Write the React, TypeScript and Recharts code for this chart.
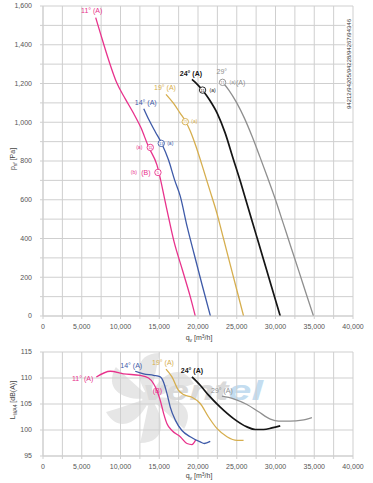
import React from 'react';
import {
  ComposedChart,
  Line,
  XAxis,
  YAxis,
  CartesianGrid,
  ReferenceDot,
} from 'recharts';

const FONT = '"Liberation Sans", Arial, sans-serif';

const FLOW_TICKS = [
  0, 2500, 5000, 7500, 10000, 12500, 15000, 17500, 20000, 22500, 25000,
  27500, 30000, 32500, 35000, 37500, 40000,
];
const PRESSURE_TICKS = [
  0, 100, 200, 300, 400, 500, 600, 700, 800, 900, 1000, 1100, 1200, 1300,
  1400, 1500, 1600,
];
const SOUND_TICKS = [95, 100, 105, 110, 115];

const BLADE_ANGLES = ['11°', '14°', '19°', '24°', '29°'];
const COLORS = ['#e8328c', '#3e5aa8', '#d6ae4e', '#151515', '#8f8f8f'];

// static pressure p_sf [Pa] over flow q_v [m3/h]
const Q_11 = [6800, 7400, 8400, 9500, 10600, 11700, 12600, 13600, 14700, 15900, 16900, 18000, 19000, 19650];
const P_11 = [1540, 1460, 1330, 1205, 1122, 1045, 975, 875, 780, 565, 385, 236, 100, 0];
const Q_14 = [13000, 13700, 14500, 15300, 16200, 17000, 17700, 18600, 19500, 20500, 21600];
const P_14 = [1070, 1010, 950, 892, 805, 700, 620, 461, 320, 165, 0];
const Q_19 = [15870, 16850, 17710, 18350, 19000, 19700, 20720, 21500, 22440, 23300, 24200, 25100, 25880];
const P_19 = [1144, 1097, 1046, 1008, 955, 880, 753, 652, 530, 398, 259, 120, 0];
const Q_24 = [19220, 20000, 20640, 21500, 22500, 23500, 24500, 25500, 26500, 27500, 28500, 29500, 30610];
const P_24 = [1221, 1192, 1163, 1115, 1045, 945, 817, 690, 555, 420, 285, 150, 0];
const Q_29 = [23200, 24000, 25000, 26000, 27000, 28000, 29000, 30000, 31000, 32000, 33000, 34000, 34900];
const P_29 = [1205, 1165, 1100, 1020, 925, 820, 712, 600, 478, 355, 233, 110, 0];

// sound power level L_WA4 [dB(A)] over flow q_v [m3/h]
const LQ_11 = [6880, 8680, 10400, 12550, 13620, 14270, 14700, 15130, 15560, 16000, 16640, 17710, 18580, 19220, 19700];
const L_11 = [110.2, 111.3, 110.8, 110.5, 110.0, 108.9, 107.6, 105.7, 103.2, 101.2, 99.9, 98.7, 97.4, 97.2, 98.1];
const LQ_14 = [11900, 12980, 14270, 15130, 15560, 16000, 16420, 17070, 17930, 19000, 20290, 20810, 21580];
const L_14 = [111.3, 110.8, 110.5, 110.2, 109.2, 107.0, 104.4, 101.9, 99.9, 98.7, 97.7, 97.4, 97.8];
const LQ_19 = [15870, 16640, 17490, 18140, 19220, 20290, 21360, 22440, 23740, 25030, 25880];
const L_19 = [111.7, 110.2, 107.6, 106.8, 106.3, 105.1, 102.5, 100.3, 98.7, 98.0, 98.0];
const LQ_24 = [19220, 20290, 21360, 22870, 24590, 26320, 27390, 28460, 29540, 30610];
const L_24 = [110.2, 108.6, 106.7, 104.4, 102.2, 100.6, 100.1, 100.1, 100.4, 100.8];
const LQ_29 = [23090, 24590, 26320, 27820, 29330, 30400, 31900, 33410, 34700];
const L_29 = [106.5, 106.0, 104.9, 103.5, 102.1, 101.7, 101.7, 101.9, 102.4];

// operating points marked on the pressure curves
const OP_Q = [13840, 14830, 15260, 18360, 20590, 23170];
const OP_P = [870, 741, 891, 1003, 1166, 1206];
const OP_SERIES = [0, 0, 1, 2, 3, 4];
const OP_NUM = ['11', '5', '13', '15', '11', '11'];

const zip = (q: number[], v: number[]) => q.map((x, i) => ({ q: x, v: v[i] }));

const PRESSURE_CURVES = [
  zip(Q_11, P_11),
  zip(Q_14, P_14),
  zip(Q_19, P_19),
  zip(Q_24, P_24),
  zip(Q_29, P_29),
];
const SOUND_CURVES = [
  zip(LQ_11, L_11),
  zip(LQ_14, L_14),
  zip(LQ_19, L_19),
  zip(LQ_24, L_24),
  zip(LQ_29, L_29),
];

// curve name placement relative to the first point of each curve
const TOP_LABEL = [
  { text: 'A', dx: -4, dy: -5, anchor: 'middle' },
  { text: 'A', dx: 2, dy: -4, anchor: 'middle' },
  { text: 'A', dx: -1, dy: -4, anchor: 'middle' },
  { text: 'A', dx: -1, dy: -3, anchor: 'middle', bold: true },
  { text: '', dx: -1, dy: -9, anchor: 'middle' },
];
const BOTTOM_LABEL = [
  { dx: -3, dy: 4, anchor: 'end' },
  { dx: -4, dy: -3.5, anchor: 'middle' },
  { dx: -3, dy: -4.5, anchor: 'middle' },
  { dx: 0, dy: -4, anchor: 'middle', bold: true },
  { dx: 0, dy: -3, anchor: 'middle' },
];

// small notes drawn beside each operating point
const OP_NOTES = [
  [{ t: '(a)', dx: -11, size: 5 }],
  [{ t: '(B)', dx: -12, size: 7 }, { t: '(b)', dx: -24, size: 5 }],
  [{ t: '(a)', dx: 9, size: 5 }],
  [{ t: '(a)', dx: 9, size: 5 }],
  [{ t: '(a)', dx: 10, size: 5 }],
  [{ t: '(a)', dx: 10, size: 5 }, { t: '(A)', dx: 18, size: 7 }],
];

const GRID = '#cfcfcf';
const tick = { fill: '#555', fontSize: 7, fontFamily: FONT };
const fmtFlow = (v: number) => (v % 5000 === 0 ? v.toLocaleString('en-US') : '');
const fmtPressure = (v: number) => (v % 200 === 0 ? v.toLocaleString('en-US') : '');

const curveText = (
  txt: string,
  color: string,
  cfg: { dx: number; dy: number; anchor: string; bold?: boolean }
) => (p: any) => (
  <text
    x={p.cx + cfg.dx}
    y={p.cy + cfg.dy}
    textAnchor={cfg.anchor as any}
    fill={color}
    fontSize={7}
    fontWeight={cfg.bold ? 700 : 400}
    fontFamily={FONT}
  >
    {txt}
  </text>
);

const opMarker = (i: number) => (p: any) => {
  const color = COLORS[OP_SERIES[i]];
  return (
    <g>
      <circle cx={p.cx} cy={p.cy} r={3.2} fill="#fff" stroke={color} strokeWidth={0.9} />
      <text x={p.cx} y={p.cy + 1.5} textAnchor="middle" fontSize={4} fill={color} fontFamily={FONT}>
        {OP_NUM[i]}
      </text>
      {OP_NOTES[i].map((n, k) => (
        <text
          key={k}
          x={p.cx + n.dx}
          y={p.cy + n.size * 0.35}
          textAnchor="middle"
          fontSize={n.size}
          fill={color}
          fontFamily={FONT}
        >
          {n.t}
        </text>
      ))}
    </g>
  );
};

const PressureChart = () => (
  <ComposedChart width={373} height={345} margin={{ top: 6, right: 20, left: 0, bottom: 0 }}>
    <CartesianGrid stroke={GRID} strokeWidth={1} />
    <XAxis
      type="number"
      dataKey="q"
      domain={[0, 40000]}
      ticks={FLOW_TICKS}
      interval={0}
      tickFormatter={fmtFlow}
      height={29}
      tick={tick}
      tickSize={3}
      tickMargin={5}
      axisLine={{ stroke: GRID }}
      tickLine={{ stroke: GRID }}
      allowDataOverflow
    />
    <YAxis
      type="number"
      domain={[0, 1600]}
      ticks={PRESSURE_TICKS}
      interval={0}
      tickFormatter={fmtPressure}
      width={43}
      tick={tick}
      tickSize={3}
      tickMargin={8}
      axisLine={{ stroke: GRID }}
      tickLine={{ stroke: GRID }}
      allowDataOverflow
    />
    {PRESSURE_CURVES.map((d, i) => (
      <Line
        key={i}
        data={d}
        dataKey="v"
        type="monotone"
        stroke={COLORS[i]}
        strokeWidth={i === 3 ? 1.7 : 1.3}
        dot={false}
        isAnimationActive={false}
      />
    ))}
    {PRESSURE_CURVES.map((d, i) => (
      <ReferenceDot
        key={`l${i}`}
        x={d[0].q}
        y={d[0].v}
        shape={curveText(
          TOP_LABEL[i].text ? `${BLADE_ANGLES[i]} (${TOP_LABEL[i].text})` : BLADE_ANGLES[i],
          COLORS[i],
          TOP_LABEL[i]
        )}
      />
    ))}
    {OP_Q.map((q, i) => (
      <ReferenceDot key={`o${i}`} x={q} y={OP_P[i]} shape={opMarker(i)} />
    ))}
  </ComposedChart>
);

const SoundChart = () => (
  <ComposedChart width={373} height={143} margin={{ top: 12, right: 20, left: 0, bottom: 0 }}>
    <CartesianGrid stroke={GRID} strokeWidth={1} />
    <XAxis
      type="number"
      dataKey="q"
      domain={[0, 40000]}
      ticks={FLOW_TICKS}
      interval={0}
      tickFormatter={fmtFlow}
      height={27}
      tick={tick}
      tickSize={3}
      tickMargin={5}
      axisLine={{ stroke: GRID }}
      tickLine={{ stroke: GRID }}
      allowDataOverflow
    />
    <YAxis
      type="number"
      domain={[95, 115]}
      ticks={SOUND_TICKS}
      interval={0}
      width={43}
      tick={tick}
      tickSize={3}
      tickMargin={8}
      axisLine={{ stroke: GRID }}
      tickLine={{ stroke: GRID }}
      allowDataOverflow
    />
    {SOUND_CURVES.map((d, i) => (
      <Line
        key={i}
        data={d}
        dataKey="v"
        type="monotone"
        stroke={COLORS[i]}
        strokeWidth={i === 3 ? 1.7 : 1.3}
        dot={false}
        isAnimationActive={false}
      />
    ))}
    {SOUND_CURVES.map((d, i) => (
      <ReferenceDot
        key={`l${i}`}
        x={d[0].q}
        y={d[0].v}
        shape={curveText(`${BLADE_ANGLES[i]} (A)`, COLORS[i], BOTTOM_LABEL[i])}
      />
    ))}
    <ReferenceDot
      x={LQ_11[6]}
      y={L_11[6]}
      shape={curveText('(B)', COLORS[0], { dx: 0.5, dy: 2.5, anchor: 'middle' })}
    />
  </ComposedChart>
);

// faint fan + brand watermark behind the sound chart
const Watermark = () => {
  const blades = [0, 60, 120, 180, 240, 300];
  return (
    <svg width={373} height={483} style={{ position: 'absolute', left: 0, top: 0 }}>
      <g transform="translate(150,398)">
        {blades.map((a) => (
          <path
            key={a}
            d="M0,0 C8,-22 30,-38 44,-14 C30,-10 14,-4 0,0 Z"
            fill="#e6e6e6"
            transform={`rotate(${a})`}
          />
        ))}
        <circle r={8} fill="#e6e6e6" />
      </g>
      <text
        x={143}
        y={400}
        fontSize={28}
        fontWeight={700}
        fontStyle="italic"
        fontFamily={FONT}
        textLength={120}
        lengthAdjust="spacingAndGlyphs"
      >
        <tspan fill="#dadada">vent</tspan>
        <tspan fill="#c4ddf0">el</tspan>
      </text>
    </svg>
  );
};

const Titles = () => (
  <svg width={373} height={483} style={{ position: 'absolute', left: 0, top: 0, pointerEvents: 'none' }}>
    <g fontFamily={FONT} fill="#444" fontSize={7}>
      <text x={199} y={340} textAnchor="middle">
        q<tspan fontSize={5} dy={1.5}>v</tspan>
        <tspan dy={-1.5}> [m</tspan>
        <tspan fontSize={5} dy={-2}>3</tspan>
        <tspan dy={2}>/h]</tspan>
      </text>
      <text x={199} y={478} textAnchor="middle">
        q<tspan fontSize={5} dy={1.5}>v</tspan>
        <tspan dy={-1.5}> [m</tspan>
        <tspan fontSize={5} dy={-2}>3</tspan>
        <tspan dy={2}>/h]</tspan>
      </text>
      <text transform="translate(15,159) rotate(-90)" textAnchor="middle">
        p<tspan fontSize={5} dy={1.5}>sf</tspan>
        <tspan dy={-1.5}> [Pa]</tspan>
      </text>
      <text transform="translate(15,400) rotate(-90)" textAnchor="middle">
        L<tspan fontSize={5} dy={1.5}>WA4</tspan>
        <tspan dy={-1.5}> [dB(A)]</tspan>
      </text>
    </g>
    <rect x={345.5} y={7} width={6.5} height={114} fill="#fff" />
    <text
      transform="translate(351,64) rotate(-90)"
      textAnchor="middle"
      fontSize={6}
      fill="#333"
      fontFamily={FONT}
    >
      94212/94205/94228/94267/94346
    </text>
  </svg>
);

export default function App() {
  return (
    <div
      style={{
        position: 'absolute',
        left: 0,
        top: 0,
        width: 373,
        height: 483,
        background: '#fff',
        fontFamily: FONT,
      }}
    >
      <Watermark />
      <div style={{ position: 'absolute', left: 0, top: 0 }}>
        <PressureChart />
      </div>
      <div style={{ position: 'absolute', left: 0, top: 340 }}>
        <SoundChart />
      </div>
      <Titles />
    </div>
  );
}
